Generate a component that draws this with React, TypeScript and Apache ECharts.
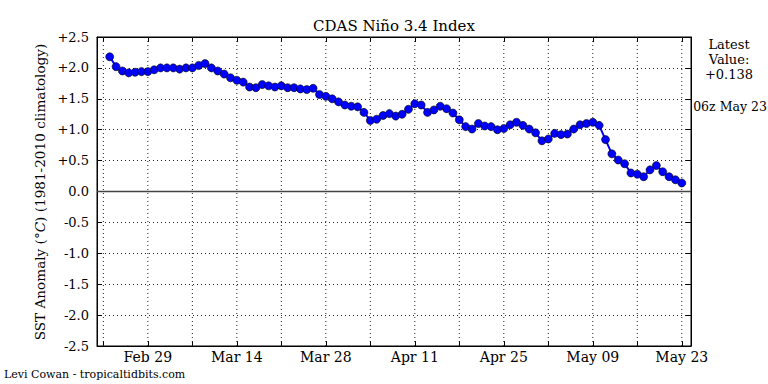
import React, { useEffect, useRef } from "react";
import * as echarts from "echarts";

// Daily CDAS Niño 3.4 values, Feb 23 2016 .. May 23 2016
const startDate = "2016-02-23";
const values: number[] = [
  2.18, 2.02, 1.95, 1.92, 1.93, 1.94, 1.94, 1.97, 2.0, 2.0,
  2.0, 1.98, 2.0, 2.0, 2.04, 2.07, 2.0, 1.95, 1.9, 1.84,
  1.8, 1.77, 1.69, 1.68, 1.73, 1.71, 1.69, 1.71, 1.68, 1.68,
  1.66, 1.65, 1.67, 1.57, 1.54, 1.5, 1.45, 1.4, 1.38, 1.37,
  1.28, 1.15, 1.17, 1.23, 1.26, 1.22, 1.25, 1.33, 1.42, 1.4,
  1.28, 1.32, 1.38, 1.34, 1.27, 1.16, 1.05, 1.01, 1.1, 1.06,
  1.05, 1.0, 1.02, 1.08, 1.12, 1.07, 1.01, 0.95, 0.82, 0.85,
  0.94, 0.92, 0.93, 1.01, 1.08, 1.1, 1.12, 1.07, 0.84, 0.61,
  0.51, 0.45, 0.3, 0.28, 0.24, 0.35, 0.42, 0.32, 0.24, 0.19,
  0.138,
];

// Axis reference: day numbers counted from Feb 15 2016
const axisOrigin = "2016-02-15";
const xMinDate = "2016-02-21";
const gridDates = [
  "2016-02-22", "2016-02-29", "2016-03-07", "2016-03-14", "2016-03-21",
  "2016-03-28", "2016-04-04", "2016-04-11", "2016-04-18", "2016-04-25",
  "2016-05-02", "2016-05-09", "2016-05-16", "2016-05-23",
];
const labelDates = ["2016-02-29", "2016-03-14", "2016-03-28", "2016-04-11", "2016-04-25", "2016-05-09", "2016-05-23"];

const titleText = "CDAS Niño 3.4 Index";
const latestLines = ["Latest", "Value:", "+0.138"];
const latestTime = "06z May 23";
const credit = "Levi Cowan - tropicaltidbits.com";

const MONTHS = ["Jan", "Feb", "Mar", "Apr", "May", "Jun", "Jul", "Aug", "Sep", "Oct", "Nov", "Dec"];
const DAY = 86400000;
const toDay = (s: string) => Math.round((Date.parse(s + "T00:00:00Z") - Date.parse(axisOrigin + "T00:00:00Z")) / DAY);
const fmtDay = (d: number) => {
  const t = new Date(Date.parse(axisOrigin + "T00:00:00Z") + Math.round(d) * DAY);
  const dd = t.getUTCDate();
  return MONTHS[t.getUTCMonth()] + " " + (dd < 10 ? "0" + dd : String(dd));
};

const FONT = "DejaVu Serif";

export default function App() {
  const ref = useRef<HTMLDivElement>(null);
  useEffect(() => {
    if (!ref.current) return;
    const chart = echarts.init(ref.current, undefined, { renderer: "svg" });
    const start = toDay(startDate);
    const data = values.map((v, i) => [start + i, v]);
    const xMin = toDay(xMinDate);
    const xMax = xMin + 93.45;
    const gridDays = gridDates.map(toDay);
    const labelDays = labelDates.map(toDay);

    const tickStyle = { show: true, inside: true, length: 5, lineStyle: { color: "#000", width: 1 } };

    chart.setOption({
      animation: false,
      backgroundColor: "#fff",
      grid: { left: 97, top: 37, right: 77, bottom: 38, show: true, borderColor: "#000", borderWidth: 1, backgroundColor: "transparent" },
      xAxis: [
        {
          type: "value", min: xMin, max: xMax, position: "bottom",
          axisLine: { show: true, onZero: false, lineStyle: { color: "#000", width: 1 } },
          axisTick: { ...tickStyle, customValues: gridDays },
          axisLabel: { customValues: labelDays, formatter: (v: number) => fmtDay(v), color: "#000", fontFamily: FONT, fontSize: 14, margin: 4 },
          splitLine: { show: false },
        },
        {
          type: "value", min: xMin, max: xMax, position: "top",
          axisLine: { show: true, onZero: false, lineStyle: { color: "#000", width: 1 } },
          axisTick: { ...tickStyle, customValues: gridDays },
          axisLabel: { show: false },
          splitLine: { show: false },
        },
      ],
      yAxis: [
        {
          type: "value", min: -2.5, max: 2.5, interval: 0.5, position: "left",
          axisLine: { show: true, onZero: false, lineStyle: { color: "#000", width: 1 } },
          axisTick: tickStyle,
          axisLabel: {
            color: "#000", fontFamily: FONT, fontSize: 13, margin: 8,
            formatter: (v: number) => (v > 0 ? "+" + v.toFixed(1) : v.toFixed(1)),
          },
          splitLine: { show: true, lineStyle: { color: "#222", width: 1, type: [1, 3] } },
        },
        {
          type: "value", min: -2.5, max: 2.5, interval: 0.5, position: "right",
          axisLine: { show: true, onZero: false, lineStyle: { color: "#000", width: 1 } },
          axisTick: tickStyle,
          axisLabel: { show: false },
          splitLine: { show: false },
        },
      ],
      series: [
        {
          type: "custom", z: 1, silent: true,
          data: gridDays.map((d) => [d, 0]),
          encode: { x: 0, y: 1 },
          renderItem: (_params: any, api: any) => {
            const xv = api.value(0);
            const p1 = api.coord([xv, 2.5]);
            const p2 = api.coord([xv, -2.5]);
            return {
              type: "line",
              shape: { x1: p1[0], y1: p1[1], x2: p2[0], y2: p2[1] },
              style: { stroke: "#222", lineWidth: 1, lineDash: [1, 3] },
            };
          },
        },
        {
          type: "line", data, z: 3,
          symbol: "circle", symbolSize: 8,
          lineStyle: { color: "#0000ff", width: 2 },
          itemStyle: { color: "#0000ff", borderColor: "#000", borderWidth: 0.6 },
          markLine: {
            silent: true, symbol: ["none", "none"], label: { show: false }, animation: false, z: 1,
            data: [{ yAxis: 0, lineStyle: { color: "#444", width: 1.3, type: "solid" } }],
          },
        },
      ],
      graphic: [
        { type: "text", x: 394, y: 26, style: { text: titleText, font: `15px '${FONT}'`, fill: "#000", align: "center", verticalAlign: "middle" } },
        {
          type: "text", x: 40, y: 192, rotation: Math.PI / 2,
          style: {
            text: "SST Anomaly ({i|°C}) (1981-2010 climatology)",
            font: `13.6px '${FONT}'`, fill: "#000", align: "center", verticalAlign: "middle",
            rich: { i: { fontStyle: "italic", fontFamily: FONT, fontSize: 13.6 } },
          },
        },
        ...latestLines.map((t, i) => ({
          type: "text", x: 729, y: 44 + i * 15,
          style: { text: t, font: `13px '${FONT}'`, fill: "#000", align: "center", verticalAlign: "middle" },
        })),
        { type: "text", x: 730, y: 106, style: { text: latestTime, font: `12.5px '${FONT}'`, fill: "#000", align: "center", verticalAlign: "middle" } },
        { type: "text", x: 4, y: 374, style: { text: credit, font: `11px '${FONT}'`, fill: "#000", align: "left", verticalAlign: "middle" } },
      ],
    });
    return () => chart.dispose();
  }, []);
  return <div ref={ref} style={{ position: "fixed", left: 0, top: 0, width: 768, height: 384 }} />;
}
